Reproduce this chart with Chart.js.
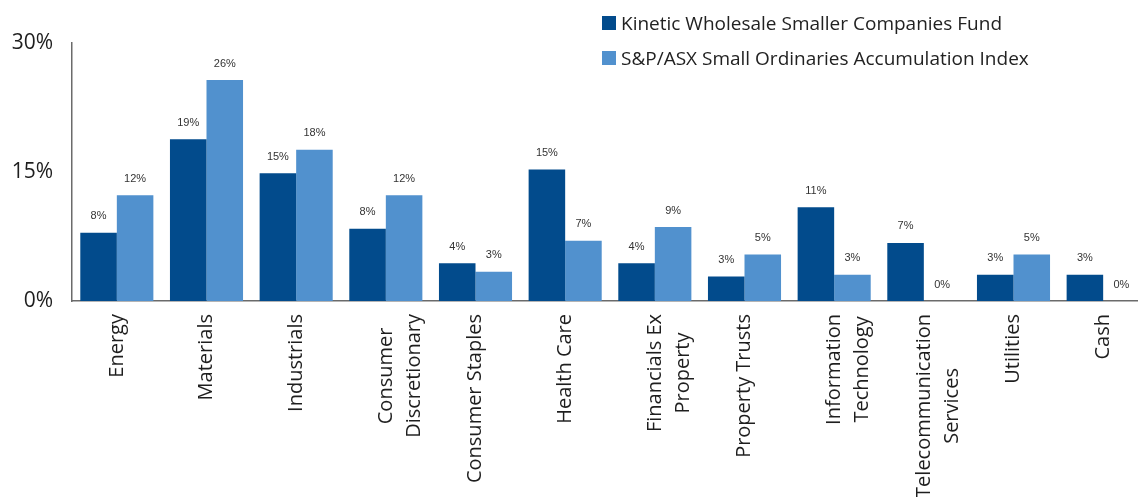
<!DOCTYPE html>
<html>
<head>
<meta charset="utf-8">
<script src="https://cdn.jsdelivr.net/npm/chart.js@4/dist/chart.umd.min.js"></script>
<style>
  html, body { margin: 0; padding: 0; background: #fff; overflow: hidden; }
  #wrap { position: relative; width: 1148px; height: 497px; }
  #legend { position: absolute; left: 602px; top: 5px; font-family: "Open Sans", sans-serif; font-size: 19px; color: #222; }
  #legend .item { display: flex; align-items: center; height: 35px; white-space: nowrap; }
  #legend .box { width: 14px; height: 14px; margin-right: 5px; }
</style>
</head>
<body>
<div id="wrap">
  <canvas id="chart"></canvas>
  <div id="legend"></div>
</div>
<script>
const sectors = [
  "Energy", "Materials", "Industrials", ["Consumer", "Discretionary"], "Consumer Staples",
  "Health Care", ["Financials Ex", "Property"], "Property Trusts", ["Information", "Technology"],
  ["Telecommunication", "Services"], "Utilities", "Cash"
];
const fundName = "Kinetic Wholesale Smaller Companies Fund";
const indexName = "S&P/ASX Small Ordinaries Accumulation Index";
const fundValues = [7.95, 18.8, 14.85, 8.4, 4.4, 15.3, 4.4, 2.85, 10.9, 6.75, 3.05, 3.05];
const indexValues = [12.3, 25.7, 17.6, 12.3, 3.4, 7.0, 8.6, 5.4, 3.05, 0, 5.4, 0];
const yTicks = [0, 15, 30];

const fundColor = "#024b8c";
const indexColor = "#5191ce";
const axisColor = "#6b6b6b";

// value labels above each bar
const barLabels = {
  id: "barLabels",
  afterDatasetsDraw(chart) {
    const ctx = chart.ctx;
    ctx.save();
    ctx.font = "11px Arial, 'Liberation Sans', sans-serif";
    ctx.fillStyle = "#333";
    ctx.textAlign = "center";
    ctx.textBaseline = "middle";
    chart.data.datasets.forEach((ds, di) => {
      chart.getDatasetMeta(di).data.forEach((bar, i) => {
        ctx.fillText(Math.round(ds.data[i]) + "%", bar.x, bar.y - 16.5);
      });
    });
    ctx.restore();
  }
};

// center the lines of multi-line rotated category labels
const centerLabels = {
  id: "centerLabels",
  beforeDraw(chart) {
    const scale = chart.scales.x;
    const items = scale.getLabelItems(chart.chartArea);
    const ctx = chart.ctx;
    items.forEach(item => {
      if (!Array.isArray(item.label) || item._centered) return;
      ctx.save();
      ctx.font = item.font.string;
      const w = Math.max(...item.label.map(l => ctx.measureText(l).width));
      ctx.restore();
      item.options.textAlign = "center";
      item.options.translation[1] += w / 2;
      item._centered = true;
    });
  }
};

new Chart(document.getElementById("chart"), {
  type: "bar",
  data: {
    labels: sectors,
    datasets: [
      { label: fundName, data: fundValues, backgroundColor: fundColor },
      { label: indexName, data: indexValues, backgroundColor: indexColor }
    ]
  },
  options: {
    responsive: true,
    maintainAspectRatio: false,
    animation: false,
    events: [],
    layout: { padding: { left: 0, top: 43, right: 0, bottom: 0 } },
    datasets: { bar: { categoryPercentage: 0.815, barPercentage: 1.0 } },
    plugins: {
      legend: { display: false },
      tooltip: { enabled: false }
    },
    scales: {
      x: {
        grid: { display: false, drawTicks: false },
        border: { display: true, color: axisColor, width: 1.5 },
        ticks: {
          color: "#1e1e1e",
          font: { family: "'Open Sans', sans-serif", size: 20, lineHeight: 1.42 },
          minRotation: 90,
          maxRotation: 90,
          autoSkip: false,
          padding: 13
        },
        afterFit(s) { s.height = 196; s.paddingLeft = 0; s.paddingRight = 0; }
      },
      y: {
        min: 0,
        max: 30,
        grid: { display: false, drawTicks: false },
        border: { display: true, color: axisColor, width: 1.5 },
        afterBuildTicks(s) { s.ticks = yTicks.map(v => ({ value: v })); },
        ticks: {
          color: "#1e1e1e",
          font: { family: "'Open Sans', sans-serif", size: 21 },
          padding: 19,
          callback: v => v + "%"
        },
        afterFit(s) { s.width = 72; }
      }
    }
  },
  plugins: [barLabels, centerLabels]
});

// legend in two rows, top right
const legend = document.getElementById("legend");
[[fundName, fundColor], [indexName, indexColor]].forEach(([name, color]) => {
  const row = document.createElement("div");
  row.className = "item";
  const box = document.createElement("span");
  box.className = "box";
  box.style.background = color;
  const txt = document.createElement("span");
  txt.textContent = name;
  row.appendChild(box);
  row.appendChild(txt);
  legend.appendChild(row);
});
</script>
</body>
</html>
